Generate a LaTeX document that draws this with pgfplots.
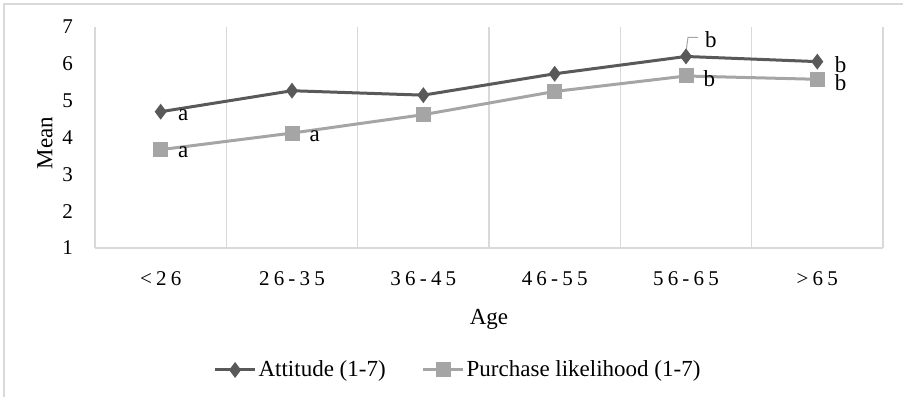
\documentclass[border=0pt]{standalone}
\usepackage{fontspec}
\setmainfont{Liberation Serif}
\newfontfamily\spacedfont[LetterSpace=20]{Liberation Serif}
\usepackage{pgfplots}
\pgfplotsset{compat=1.18}

\definecolor{attc}{HTML}{595959}
\definecolor{purc}{HTML}{A5A5A5}
\definecolor{gridc}{HTML}{D9D9D9}

\begin{document}
\fontsize{23bp}{27bp}\selectfont
\begin{tikzpicture}
% page area, measured from the lower left corner of the plot box
\useasboundingbox (-95bp,-149bp) rectangle (808bp,248bp);
% chart frame (left and top edges)
\draw[gridc, line width=1.2bp] (-91bp,-149bp) -- (-91bp,244bp) -- (808bp,244bp);
\begin{axis}[
  at={(0bp,0bp)}, anchor=south west,
  width=788bp, height=221bp, scale only axis,
  xmin=-0.5, xmax=5.5, ymin=1, ymax=7,
  xtick={0,...,5},
  xticklabels={<26,26-35,36-45,46-55,56-65,>65},
  ytick={1,...,7},
  minor xtick={0.5,1.5,2.5,3.5,4.5,5.5},
  xminorgrids,
  minor x grid style={gridc, line width=1.2bp},
  axis x line=bottom, axis y line=left,
  axis line style={gridc, line width=1.2bp, -},
  major tick length=0pt, minor tick length=0pt,
  /pgf/number format/assume math mode=true,
  x tick label style={font=\spacedfont\fontsize{21bp}{25bp}\selectfont, inner sep=0pt, yshift=-23bp},
  y tick label style={font=\fontsize{21bp}{25bp}\selectfont, inner sep=0pt, xshift=-22bp},
  xlabel={Age},
  xlabel style={at={(axis description cs:0.5,-0.321)}, anchor=center, inner sep=0pt},
  ylabel={Mean},
  ylabel style={at={(axis description cs:-0.0635,0.475)}, anchor=center, inner sep=0pt},
  clip=false,
  legend columns=2,
  legend style={at={(axis description cs:0.4607,-0.552)}, anchor=center,
    draw=none, fill=none, inner sep=0pt,
    /tikz/every even column/.append style={column sep=34bp},
    nodes={inner sep=2bp}},
  legend image code/.code={%
    \draw[mark repeat=2, mark phase=2, #1] plot coordinates {(0bp,0bp) (20bp,0bp) (40bp,0bp)};},
  nodes near coords,
  point meta=explicit symbolic,
  every node near coord/.append style={anchor=west, inner sep=0pt, xshift=16bp, yshift=-3bp, text=black},
]
\addplot[attc, line width=3bp, mark=diamond*, mark size=5.5bp,
  mark options={fill=attc, solid}]
  coordinates {(0,4.70)[a] (1,5.27)[] (2,5.15)[] (3,5.73)[] (4,6.20)[] (5,6.06)[b]};
\addlegendentry{Attitude (1-7)}
\addplot[purc, line width=3bp, mark=square*, mark size=6bp,
  mark options={fill=purc, solid}]
  coordinates {(0,3.67)[a] (1,4.12)[a] (2,4.62)[] (3,5.25)[] (4,5.67)[b] (5,5.58)[b]};
\addlegendentry{Purchase likelihood (1-7)}
% raised label for the 56-65 attitude mean, with its leader line
\addplot[draw=none, mark=none, forget plot,
  every node near coord/.style={anchor=west, inner sep=0pt, xshift=19bp, yshift=17bp, text=black}]
  coordinates {(4,6.20)[b]};
\draw[purc, line width=1bp] ([yshift=5bp]axis cs:4,6.20) -- ([xshift=2bp,yshift=19bp]axis cs:4,6.20) -- ([xshift=12bp,yshift=19bp]axis cs:4,6.20);
\end{axis}
\end{tikzpicture}
\end{document}
